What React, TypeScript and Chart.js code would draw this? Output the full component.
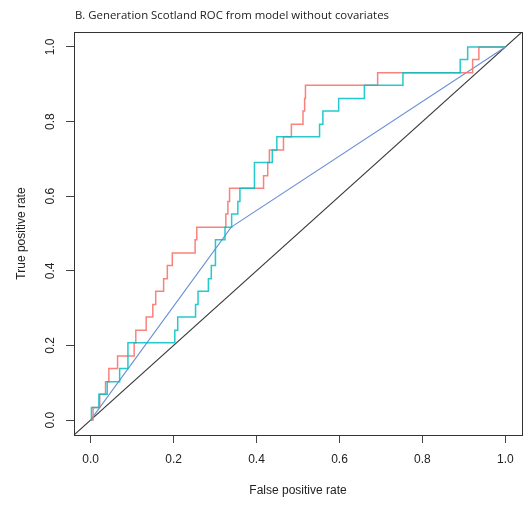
import React, { useEffect, useRef } from "react";
import { Chart, registerables } from "chart.js";

Chart.register(...registerables);

const titleText = "B. Generation Scotland ROC from model without covariates";
const xTitle = "False positive rate";
const yTitle = "True positive rate";
const tickValues = [0, 0.2, 0.4, 0.6, 0.8, 1.0];
const tickLabels = ["0.0", "0.2", "0.4", "0.6", "0.8", "1.0"];
const axisRange = [-0.04, 1.04];

// Red ROC curve (corner points; horizontal move then vertical step)
const redFpr = [0, 0.006, 0.022, 0.036, 0.044, 0.065, 0.105, 0.109, 0.134, 0.150, 0.157, 0.176, 0.185, 0.197, 0.252, 0.256, 0.326, 0.331, 0.335, 0.417, 0.427, 0.431, 0.465, 0.484, 0.512, 0.516, 0.518, 0.692, 0.921, 0.936, 1.0];
const redTpr = [0, 0.034, 0.069, 0.103, 0.138, 0.172, 0.207, 0.241, 0.276, 0.310, 0.345, 0.379, 0.414, 0.448, 0.483, 0.517, 0.552, 0.586, 0.621, 0.655, 0.690, 0.724, 0.759, 0.793, 0.828, 0.862, 0.897, 0.931, 0.966, 1.0, 1.0];

// Cyan ROC curve
const cyanFpr = [0, 0.002, 0.020, 0.040, 0.070, 0.090, 0.090, 0.203, 0.210, 0.253, 0.259, 0.284, 0.291, 0.301, 0.301, 0.324, 0.340, 0.355, 0.360, 0.395, 0.395, 0.438, 0.449, 0.552, 0.560, 0.598, 0.660, 0.753, 0.891, 0.909, 1.0];
const cyanTpr = [0, 0.034, 0.069, 0.103, 0.138, 0.172, 0.207, 0.241, 0.276, 0.310, 0.345, 0.379, 0.414, 0.448, 0.483, 0.517, 0.552, 0.586, 0.621, 0.655, 0.690, 0.724, 0.759, 0.793, 0.828, 0.862, 0.897, 0.931, 0.966, 1.0, 1.0];

// Blue piecewise line
const blueFpr = [0, 0.339, 1.0];
const blueTpr = [0, 0.517, 1.0];

const toPts = (xs: number[], ys: number[]) => xs.map((x, i) => ({ x, y: ys[i] }));

export default function App() {
  const ref = useRef<HTMLCanvasElement | null>(null);

  useEffect(() => {
    document.body.style.margin = "0";
    const canvas = ref.current;
    if (!canvas) return;

    const decor = {
      id: "decor",
      afterDraw(chart: any) {
        const { ctx, chartArea } = chart;
        ctx.save();
        // box
        ctx.strokeStyle = "#333";
        ctx.lineWidth = 1;
        ctx.strokeRect(
          Math.round(chartArea.left) + 0.5,
          Math.round(chartArea.top) + 0.5,
          Math.round(chartArea.right) - Math.round(chartArea.left),
          Math.round(chartArea.bottom) - Math.round(chartArea.top)
        );
        // title
        ctx.fillStyle = "#222";
        ctx.font = "11.4px 'Open Sans'";
        ctx.textAlign = "left";
        ctx.textBaseline = "alphabetic";
        ctx.fillText(titleText, chartArea.left + 1, 19);
        // y tick labels (rotated)
        const ys = chart.scales.y;
        ctx.font = "12px 'Liberation Sans'";
        ctx.textAlign = "center";
        ctx.textBaseline = "middle";
        tickValues.forEach((v, i) => {
          const py = ys.getPixelForValue(v);
          ctx.save();
          ctx.translate(51, py);
          ctx.rotate(-Math.PI / 2);
          ctx.fillText(tickLabels[i], 0, 0);
          ctx.restore();
        });
        ctx.restore();
      },
    };

    const chart = new Chart(canvas, {
      type: "scatter",
      data: {
        datasets: [
          {
            data: toPts(cyanFpr, cyanTpr),
            showLine: true,
            stepped: "before",
            borderColor: "rgba(0,191,196,0.85)",
            borderWidth: 1.5,
            pointRadius: 0,
            fill: false,
            order: 0,
          },
          {
            data: toPts(redFpr, redTpr),
            showLine: true,
            stepped: "before",
            borderColor: "rgba(248,118,109,0.9)",
            borderWidth: 1.5,
            pointRadius: 0,
            fill: false,
            order: 1,
          },
          {
            data: toPts(blueFpr, blueTpr),
            showLine: true,
            borderColor: "#6a8fd6",
            borderWidth: 1.1,
            pointRadius: 0,
            fill: false,
            order: 2,
          },
          {
            data: toPts(axisRange, axisRange),
            showLine: true,
            borderColor: "#3a3a3a",
            borderWidth: 1.1,
            pointRadius: 0,
            fill: false,
            order: 3,
          },
        ],
      },
      options: {
        animation: false,
        responsive: false,
        devicePixelRatio: 1,
        layout: { padding: { left: 0, right: 4, top: 32, bottom: 0 } },
        plugins: {
          legend: { display: false },
          tooltip: { enabled: false },
          title: { display: false },
        },
        scales: {
          x: {
            type: "linear",
            min: axisRange[0],
            max: axisRange[1],
            afterBuildTicks: (s: any) => {
              s.ticks = tickValues.map((v) => ({ value: v }));
            },
            afterFit: (s: any) => {
              s.height = 71;
            },
            grid: {
              drawOnChartArea: false,
              drawTicks: true,
              tickLength: 8,
              color: "#444",
            },
            border: { display: false },
            ticks: {
              padding: 9,
              color: "#222",
              font: { family: "'Liberation Sans'", size: 12 },
              maxRotation: 0,
              autoSkip: false,
              callback: (v: any) => {
                const i = tickValues.indexOf(Number(v));
                return i >= 0 ? tickLabels[i] : "";
              },
            },
            title: {
              display: true,
              text: xTitle,
              color: "#222",
              font: { family: "'Liberation Sans'", size: 12 },
              padding: { top: 0, bottom: 8 },
            },
          },
          y: {
            type: "linear",
            min: axisRange[0],
            max: axisRange[1],
            afterBuildTicks: (s: any) => {
              s.ticks = tickValues.map((v) => ({ value: v }));
            },
            afterFit: (s: any) => {
              s.width = 74;
            },
            grid: {
              drawOnChartArea: false,
              drawTicks: true,
              tickLength: 8,
              color: "#444",
            },
            border: { display: false },
            ticks: { display: false },
            title: {
              display: true,
              text: yTitle,
              color: "#222",
              font: { family: "'Liberation Sans'", size: 12 },
              padding: { top: 14, bottom: 0 },
            },
          },
        },
      },
      plugins: [decor],
    });

    return () => chart.destroy();
  }, []);

  return (
    <div style={{ width: 526, height: 506 }}>
      <canvas ref={ref} width={526} height={506} style={{ display: "block" }} />
    </div>
  );
}
